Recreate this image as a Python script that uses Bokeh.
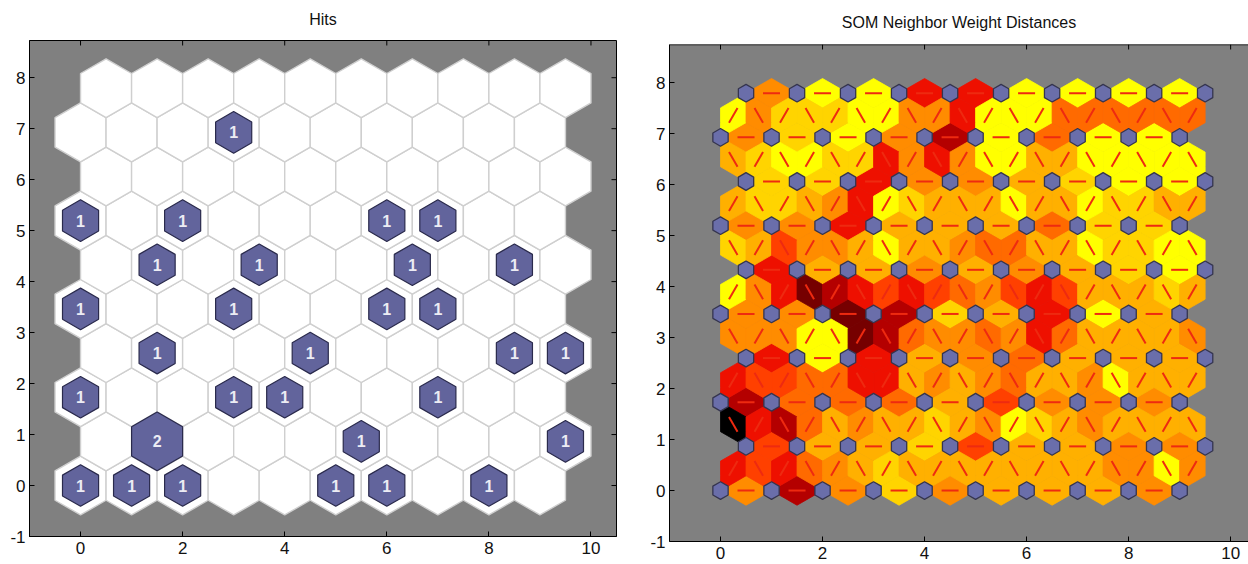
import math
from bokeh.plotting import figure
from bokeh.models import ColumnDataSource, FixedTicker, Range1d, Span
from bokeh.layouts import row, column
from bokeh.embed import file_html
from bokeh.resources import INLINE
from bokeh.core.properties import value

FONT = "Liberation Sans"

# ---------------- data ----------------
# SOM grid 10 x 10 (hexagonal topology), row 0 at the bottom
GRID_COLS = 10
GRID_ROWS = 10

# number of hits per neuron, one string per grid row (row 0 = bottom)
HITS = [
    "1110011010",
    "0200010001",
    "1001100100",
    "0100100011",
    "1001001100",
    "0101001010",
    "1010001100",
    "0000000000",
    "0001000000",
    "0000000000",
]

# neighbour weight distance level (0 = smallest ... 9 = largest)
# horizontal links inside each grid row (9 per row)
DIST_H = [
    "373132223",
    "522152233",
    "744425333",
    "606234222",
    "338712602",
    "622323210",
    "336222411",
    "116332100",
    "310370400",
    "300660000",
]
# diagonal links between grid row j and j+1 (19 per gap, left to right)
DIST_D = [
    "6564321222222223303",
    "9674232212301232222",
    "6554466232342230222",
    "3330087433436422223",
    "0368765654356522212",
    "1253320223442201100",
    "2112360122202201122",
    "2100116363002200000",
    "0311100336000444444",
]

LEVEL_COLORS = ["#ffff00", "#ffd400", "#ffb000", "#ff8c00", "#ff6a00",
                "#ff4000", "#ee1000", "#b40000", "#760000", "#000000"]

X_TICKS = [0, 2, 4, 6, 8, 10]
Y_TICKS = [-1, 0, 1, 2, 3, 4, 5, 6, 7, 8]

# ---------------- geometry helpers ----------------
S = math.sqrt(3) / 2.0
R_CELL = 1.0 / math.sqrt(3)
TICK_LEN = 5.0 / 51.0   # 5 px inward ticks on the mirrored sides
FIG_H = 564


def neuron_xy(i, j):
    return i + 0.5 * (j % 2), j * S


def hexagon(cx, cy, r):
    angs = [90, 150, 210, 270, 330, 30]
    return ([cx + r * math.cos(math.radians(a)) for a in angs],
            [cy + r * math.sin(math.radians(a)) for a in angs])


def link_polygon(xa, ya, xb, yb):
    mx, my = (xa + xb) / 2.0, (ya + yb) / 2.0
    phi = math.degrees(math.atan2(yb - ya, xb - xa))
    r = 0.5 / math.sqrt(3)

    def v(a):
        return (mx + r * math.cos(math.radians(a)), my + r * math.sin(math.radians(a)))

    pts = [v(phi + 30), v(phi + 90), v(phi + 150), (xa, ya),
           v(phi + 210), v(phi + 270), v(phi + 330), (xb, yb)]
    return [p[0] for p in pts], [p[1] for p in pts]


def style_axis(ax, ticks, standoff):
    ax.ticker = FixedTicker(ticks=ticks)
    ax.axis_line_color = "black"
    ax.axis_line_width = 1
    ax.major_tick_line_color = "black"
    ax.major_tick_in = 5
    ax.major_tick_out = 0
    ax.minor_tick_line_color = None
    ax.major_label_text_font = FONT
    ax.major_label_text_font_size = "17px"
    ax.major_label_text_color = "#111111"
    ax.major_label_standoff = standoff
    ax.major_label_overrides = {t: str(t) for t in ticks}


def make_fig(width, x_end, y_end, mb_left, mb_right, mb_top, mb_bottom, title, t_standoff):
    p = figure(width=width, height=FIG_H, output_backend="svg", toolbar_location=None,
               x_range=Range1d(-1, x_end), y_range=Range1d(-1, y_end),
               min_border_left=mb_left, min_border_right=mb_right,
               min_border_top=mb_top, min_border_bottom=mb_bottom)
    p.background_fill_color = "#808080"
    p.border_fill_color = "white"
    p.grid.visible = False
    p.title.text = title
    p.title.align = "center"
    p.title.vertical_align = "top"
    p.title.text_font = FONT
    p.title.text_font_size = "16px"
    p.title.text_font_style = "normal"
    p.title.text_color = "#111111"
    p.title.standoff = t_standoff
    style_axis(p.xaxis[0], X_TICKS, 5)
    style_axis(p.yaxis[0], Y_TICKS, 4)
    # mirrored inward ticks along the top edge
    p.segment(x0=X_TICKS, y0=[y_end] * len(X_TICKS), x1=X_TICKS,
              y1=[y_end - TICK_LEN] * len(X_TICKS), line_color="black", line_width=1)
    return p


# ---------------- left: hits ----------------
p1 = make_fig(624, 10.5, 8.73, 29, 8, 40, 28, "Hits", 21)
p1.outline_line_color = "black"
p1.outline_line_width = 1
p1.outline_line_alpha = 1
p1.segment(x0=[10.5] * len(Y_TICKS), y0=Y_TICKS, x1=[10.5 - TICK_LEN] * len(Y_TICKS),
           y1=Y_TICKS, line_color="black", line_width=1)

hits = [[int(ch) for ch in HITS[j]] for j in range(GRID_ROWS)]
max_hits = max(max(r) for r in hits)

cell_xs, cell_ys = [], []
hit_xs, hit_ys = [], []
lab_x, lab_y, lab_t = [], [], []
for j in range(GRID_ROWS):
    for i in range(GRID_COLS):
        cx, cy = neuron_xy(i, j)
        hx, hy = hexagon(cx, cy, R_CELL)
        cell_xs.append(hx)
        cell_ys.append(hy)
        h = hits[j][i]
        if h > 0:
            rx, ry = hexagon(cx, cy, R_CELL * math.sqrt(h / max_hits))
            hit_xs.append(rx)
            hit_ys.append(ry)
            lab_x.append(cx)
            lab_y.append(cy)
            lab_t.append(str(h))

p1.patches(cell_xs, cell_ys, fill_color="white", line_color="#cfcfcf", line_width=1.4)
p1.patches(hit_xs, hit_ys, fill_color="#62649c", line_color="#2a2a4c", line_width=1.2)
p1.text(x=lab_x, y=lab_y, text=lab_t, text_font=value(FONT), text_font_style="bold",
        text_font_size="16px", text_color="#ececf4", text_align="center",
        text_baseline="middle")

# ---------------- right: neighbour distances ----------------
# the right panel runs to the window edge (its right border is cut off)
p2 = make_fig(624, 10.35, 8.75, 45, 0, 44, 23, "SOM Neighbor Weight Distances", 24)
p2.outline_line_color = None
p2.add_layout(Span(location=8.75, dimension="width", line_color="black", line_width=1.5))

lk_xs, lk_ys, lk_col = [], [], []
sx0, sy0, sx1, sy1 = [], [], [], []


def add_link(xa, ya, xb, yb, level):
    px, py = link_polygon(xa, ya, xb, yb)
    lk_xs.append(px)
    lk_ys.append(py)
    lk_col.append(LEVEL_COLORS[level])
    mx, my = (xa + xb) / 2.0, (ya + yb) / 2.0
    dx, dy = (xb - xa) / 6.0, (yb - ya) / 6.0
    sx0.append(mx - dx)
    sy0.append(my - dy)
    sx1.append(mx + dx)
    sy1.append(my + dy)


for j in range(GRID_ROWS):
    for i in range(GRID_COLS - 1):
        xa, ya = neuron_xy(i, j)
        xb, yb = neuron_xy(i + 1, j)
        add_link(xa, ya, xb, yb, int(DIST_H[j][i]))

for j in range(GRID_ROWS - 1):
    for k in range(2 * GRID_COLS - 1):
        xm = 0.25 + 0.5 * k
        if (j + k) % 2 == 0:
            xa, xb = xm - 0.25, xm + 0.25
        else:
            xa, xb = xm + 0.25, xm - 0.25
        add_link(xa, j * S, xb, (j + 1) * S, int(DIST_D[j][k]))

src = ColumnDataSource(dict(xs=lk_xs, ys=lk_ys, c=lk_col))
p2.patches("xs", "ys", source=src, fill_color="c", line_color="c", line_width=0.8)
p2.segment(x0=sx0, y0=sy0, x1=sx1, y1=sy1, line_color="#ee2a10", line_width=2)

n_xs, n_ys = [], []
for j in range(GRID_ROWS):
    for i in range(GRID_COLS):
        cx, cy = neuron_xy(i, j)
        hx, hy = hexagon(cx, cy, 0.3 * R_CELL)
        n_xs.append(hx)
        n_ys.append(hy)
p2.patches(n_xs, n_ys, fill_color="#6a6eaa", line_color="#35354f", line_width=1.3)

# each figure in its own column so that the two axes boxes are not aligned
layout = row(column(p1), column(p2))
open("out.html", "w").write(file_html(layout, INLINE))
